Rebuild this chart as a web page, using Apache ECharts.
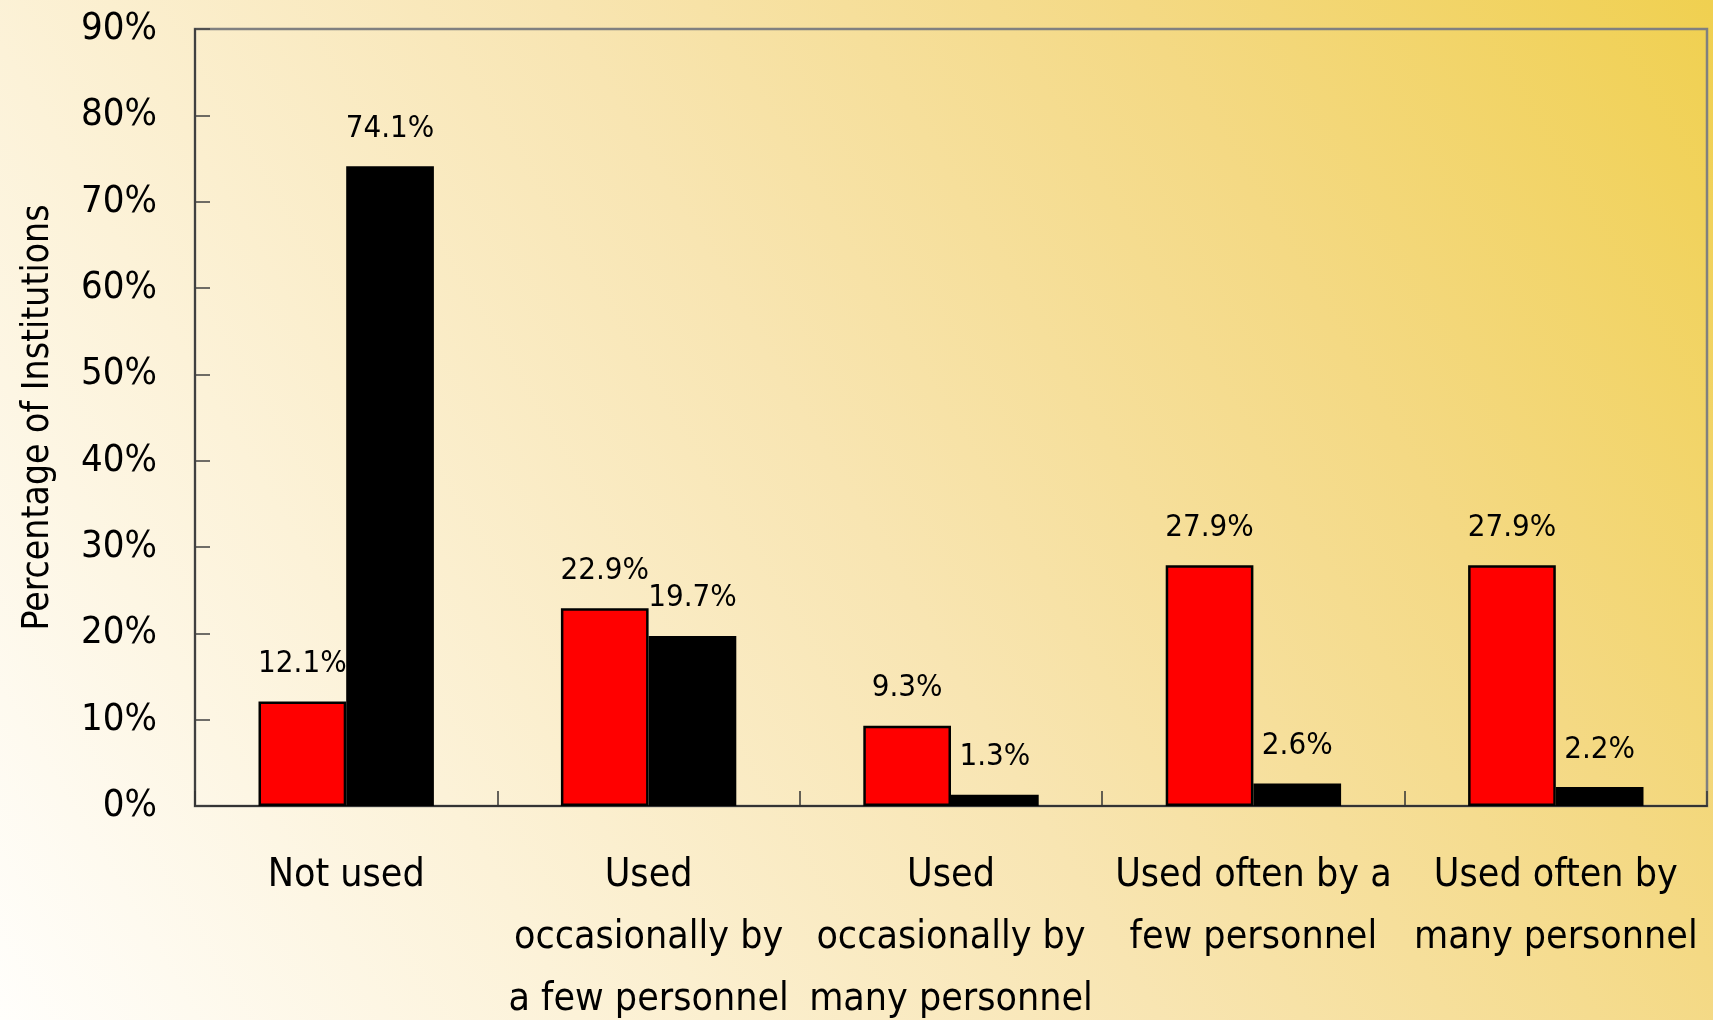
<!DOCTYPE html>
<html><head><meta charset="utf-8">
<script src="https://cdn.jsdelivr.net/npm/echarts@6/dist/echarts.min.js"></script>
<style>html,body{margin:0;padding:0;}#c{width:1713px;height:1020px;}</style>
</head><body><div id="c"></div>
<script>
const categories = ['Not used', 'Used\noccasionally by\na few personnel', 'Used\noccasionally by\nmany personnel', 'Used often by a\nfew personnel', 'Used often by\nmany personnel'];
const seriesRed = [12.1, 22.9, 9.3, 27.9, 27.9];
const seriesBlack = [74.1, 19.7, 1.3, 2.6, 2.2];
const yTicks = [0, 10, 20, 30, 40, 50, 60, 70, 80, 90];
const FONT = '"Liberation Sans Narrow", "DejaVu Sans Condensed", "Arial Narrow", sans-serif';
const chart = echarts.init(document.getElementById('c'));
const lbl = {show: true, position: 'top', distance: 22, formatter: p => p.value + '%', color: '#000', fontFamily: FONT, fontSize: 31};
chart.setOption({
  backgroundColor: new echarts.graphic.LinearGradient(0, 1, 1, 0, [
    {offset: 0, color: '#fffefb'},
    {offset: 0.25, color: '#fcf2d8'},
    {offset: 0.5, color: '#f8e5b2'},
    {offset: 0.75, color: '#f4d984'},
    {offset: 1, color: '#f0d050'}
  ]),
  textStyle: {fontFamily: FONT},
  grid: {left: 195, top: 29, right: 6, bottom: 214, outerBoundsMode: 'none', containLabel: false, show: true, borderColor: '#808080', borderWidth: 2.5, backgroundColor: 'transparent'},
  xAxis: {
    type: 'category', data: categories,
    axisLine: {lineStyle: {color: '#333', width: 2}},
    axisTick: {show: true, inside: true, length: 15, lineStyle: {color: '#333', width: 1.5}},
    axisLabel: {color: '#000', fontSize: 39, lineHeight: 62, margin: 39, fontFamily: FONT, interval: 0}
  },
  yAxis: {
    type: 'value', min: 0, max: 90, interval: 10,
    name: 'Percentage of Institutions', nameLocation: 'middle', nameGap: 138,
    nameTextStyle: {color: '#000', fontSize: 37, fontFamily: FONT},
    splitLine: {show: false},
    axisLine: {show: true, lineStyle: {color: '#404040', width: 2}},
    axisTick: {show: true, inside: true, length: 15, lineStyle: {color: '#404040', width: 1.5}},
    axisLabel: {color: '#000', fontSize: 38, margin: 38, fontFamily: FONT, formatter: v => yTicks.includes(v) ? v + '%' : ''}
  },
  series: [
    {type: 'bar', data: seriesRed, barGap: '0%', barCategoryGap: '42%', itemStyle: {color: '#ff0000', borderColor: '#000', borderWidth: 2.5}, label: lbl},
    {type: 'bar', data: seriesBlack, itemStyle: {color: '#000', borderColor: '#000', borderWidth: 2.5}, label: lbl}
  ]
});
</script></body></html>
